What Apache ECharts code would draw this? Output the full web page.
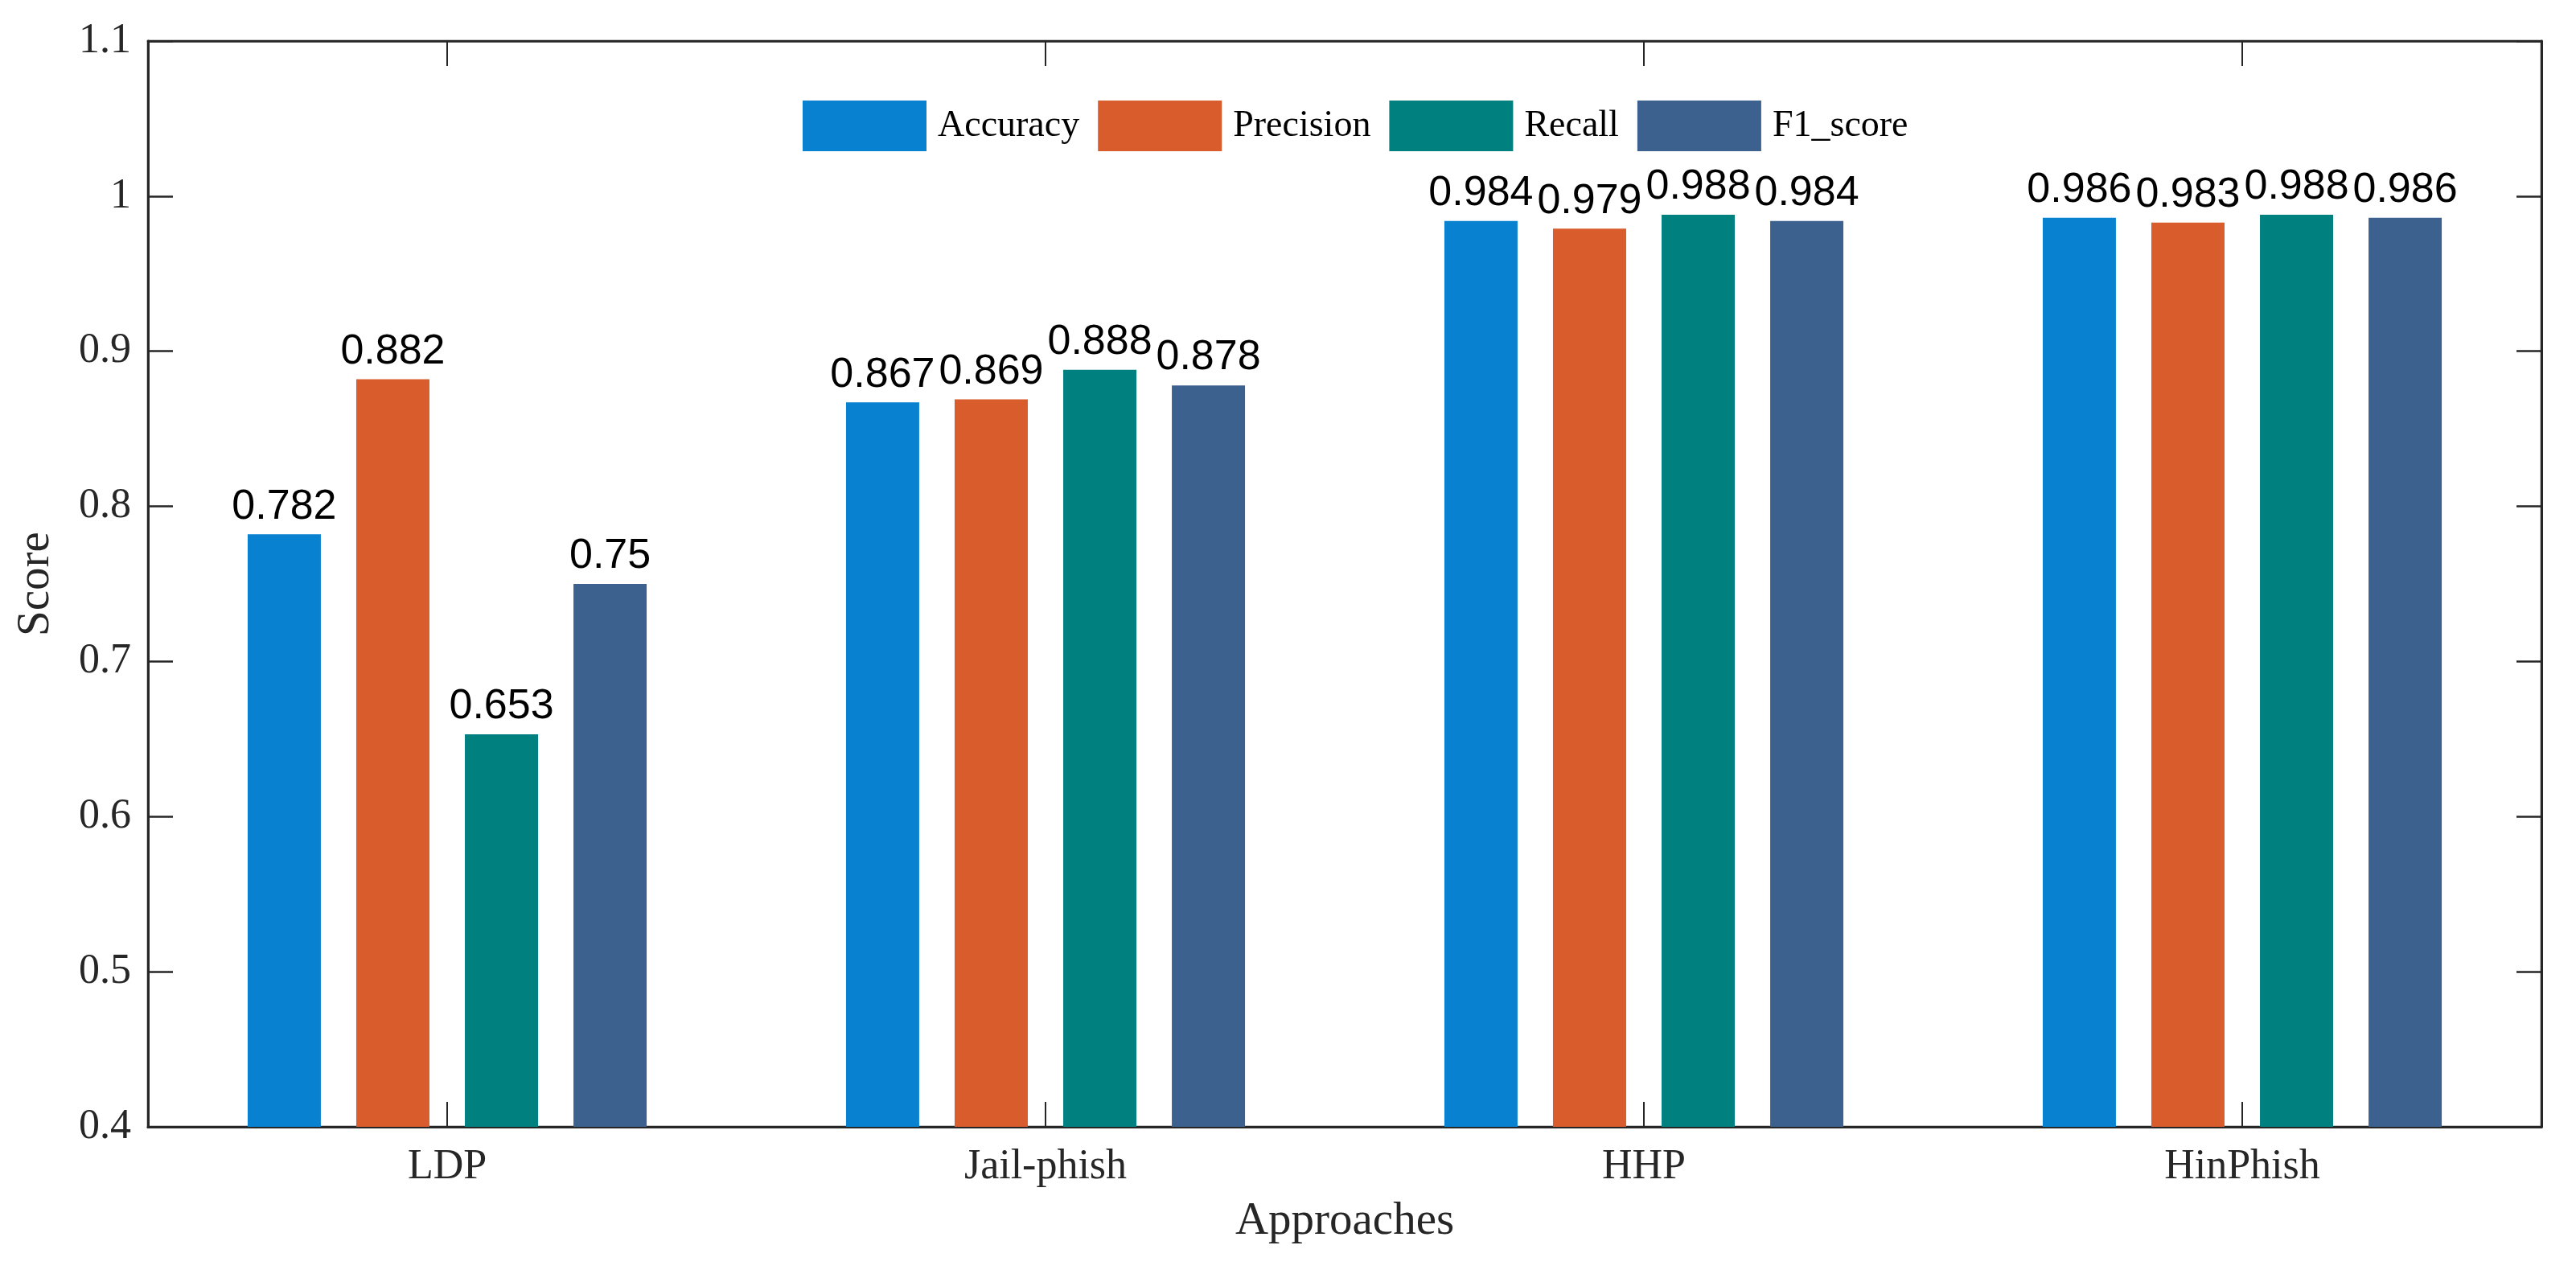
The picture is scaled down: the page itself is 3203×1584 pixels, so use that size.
<!DOCTYPE html>
<html>
<head>
<meta charset="utf-8">
<script src="https://cdn.jsdelivr.net/npm/echarts@6/dist/echarts.min.js"></script>
<style>
html,body{margin:0;padding:0;background:#fff;}
#chart{width:3203px;height:1584px;}
</style>
</head>
<body>
<div id="chart"></div>
<script>
const categories = ['LDP', 'Jail-phish', 'HHP', 'HinPhish'];
const seriesNames = ['Accuracy', 'Precision', 'Recall', 'F1_score'];
const accuracy  = [0.782, 0.867, 0.984, 0.986];
const precision = [0.882, 0.869, 0.979, 0.983];
const recall    = [0.653, 0.888, 0.988, 0.988];
const f1score   = [0.75,  0.878, 0.984, 0.986];
const yTicks = { min: 0.4, max: 1.1, interval: 0.1 };

const colors = ['#0881D1', '#D95D2C', '#00807F', '#3D618F'];
const values = [accuracy, precision, recall, f1score];
const serif = 'Liberation Serif, Times New Roman, serif';
const sans = 'Liberation Sans, Arial, sans-serif';
const axisColor = '#262626';

const chart = echarts.init(document.getElementById('chart'));

const fmtY = v => String(parseFloat(Number(v).toFixed(1)));

const option = {
  backgroundColor: '#fff',
  animation: false,
  grid: { left: 184, right: 43, top: 51, bottom: 183, containLabel: false,
          show: true, borderColor: axisColor, borderWidth: 2.5, backgroundColor: 'transparent' },
  legend: {
    left: 993, top: 120,
    itemWidth: 154, itemHeight: 63, itemGap: 23,
    icon: 'rect',
    textStyle: { fontFamily: serif, fontSize: 46, color: '#000', padding: [0, 0, 0, 9] },
    data: seriesNames
  },
  xAxis: [
    {
      type: 'category', data: categories, position: 'bottom',
      name: 'Approaches', nameLocation: 'middle', nameGap: 90,
      nameTextStyle: { fontFamily: serif, fontSize: 57, color: axisColor },
      axisLine: { show: true, lineStyle: { color: axisColor, width: 3 } },
      axisTick: { show: true, inside: true, length: 31, alignWithLabel: true, lineStyle: { color: axisColor, width: 2 } },
      axisLabel: { fontFamily: serif, fontSize: 52, color: axisColor, margin: 24 },
      splitLine: { show: false }
    },
    {
      type: 'category', data: categories, position: 'top',
      axisLine: { show: true, lineStyle: { color: axisColor, width: 2.5 } },
      axisTick: { show: true, inside: true, length: 31, alignWithLabel: true, lineStyle: { color: axisColor, width: 2 } },
      axisLabel: { show: false },
      splitLine: { show: false }
    }
  ],
  yAxis: [
    {
      type: 'value', min: yTicks.min, max: yTicks.max, interval: yTicks.interval, position: 'left',
      name: 'Score', nameLocation: 'middle', nameGap: 110, nameRotate: 90,
      nameTextStyle: { fontFamily: serif, fontSize: 57, color: axisColor },
      axisLine: { show: true, lineStyle: { color: axisColor, width: 3 } },
      axisTick: { show: true, inside: true, length: 31, lineStyle: { color: axisColor, width: 2.5 } },
      axisLabel: { fontFamily: serif, fontSize: 52, color: axisColor, margin: 21, formatter: fmtY },
      splitLine: { show: false }
    },
    {
      type: 'value', min: yTicks.min, max: yTicks.max, interval: yTicks.interval, position: 'right',
      axisLine: { show: true, lineStyle: { color: axisColor, width: 3 } },
      axisTick: { show: true, inside: true, length: 31, lineStyle: { color: axisColor, width: 2.5 } },
      axisLabel: { show: false },
      splitLine: { show: false }
    }
  ],
  series: seriesNames.map((name, i) => ({
    name: name,
    type: 'bar',
    xAxisIndex: 0, yAxisIndex: 0,
    data: values[i],
    barWidth: 91,
    barGap: '48.4%',
    itemStyle: { color: colors[i] },
    label: {
      show: true, position: 'top', distance: 8,
      fontFamily: sans, fontSize: 52, color: '#000',
      formatter: p => String(p.value)
    }
  }))
};

chart.setOption(option);
</script>
</body>
</html>
